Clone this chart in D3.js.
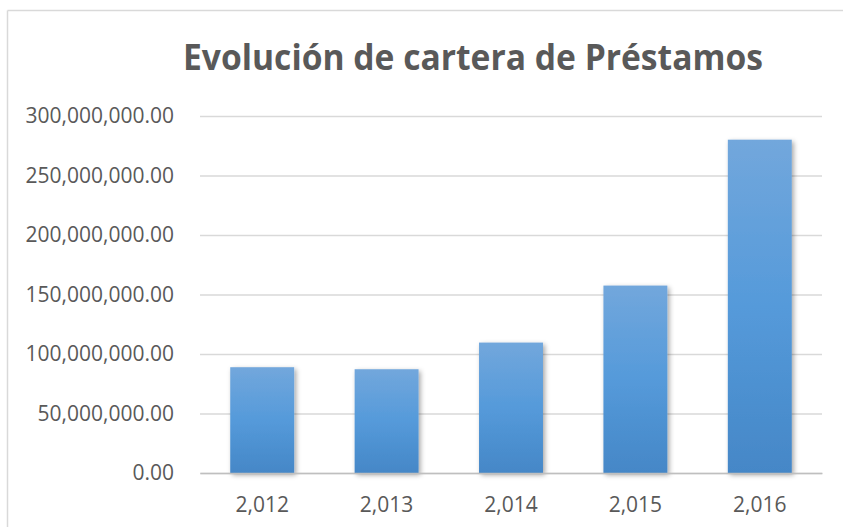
<!DOCTYPE html>
<html>
<head>
<meta charset="utf-8">
<script src="https://cdn.jsdelivr.net/npm/d3@7"></script>
<style>
  html, body { margin: 0; background: #fff; overflow: hidden; }
  svg { display: block; }
  text { font-family: "Open Sans", "Noto Sans", sans-serif; }
</style>
</head>
<body>
<script>
var years = ["2,012", "2,013", "2,014", "2,015", "2,016"];
var cartera = [88900000, 87200000, 109600000, 157500000, 280100000];
var yTicks = [0, 50000000, 100000000, 150000000, 200000000, 250000000, 300000000];
var title = "Evolución de cartera de Préstamos";

var width = 843, height = 527;
var margin = {top: 116, right: 21, bottom: 54, left: 200};

var svg = d3.select("body").append("svg")
    .attr("width", width)
    .attr("height", height);

var defs = svg.append("defs");
var grad = defs.append("linearGradient")
    .attr("id", "barGrad")
    .attr("x1", 0).attr("y1", 0).attr("x2", 0).attr("y2", 1);
grad.append("stop").attr("offset", "0%").attr("stop-color", "#72a7dc");
grad.append("stop").attr("offset", "50%").attr("stop-color", "#559ada");
grad.append("stop").attr("offset", "100%").attr("stop-color", "#4587c7");

var shadow = defs.append("filter")
    .attr("id", "shadow")
    .attr("x", "-20%").attr("y", "-10%").attr("width", "140%").attr("height", "120%");
shadow.append("feDropShadow")
    .attr("dx", 2).attr("dy", 2)
    .attr("stdDeviation", 2.5)
    .attr("flood-color", "#000")
    .attr("flood-opacity", 0.35);

// chart border: only the top and left edges fall inside the window
var border = svg.append("g")
    .attr("stroke", "#d9d9d9")
    .attr("stroke-width", 1.5);
border.append("line")
    .attr("x1", 7.5).attr("y1", 10.5).attr("x2", width).attr("y2", 10.5);
border.append("line")
    .attr("x1", 7.5).attr("y1", 10.5).attr("x2", 7.5).attr("y2", height);

var innerW = width - margin.left - margin.right;

var x = d3.scaleBand()
    .domain(years)
    .range([0, innerW])
    .paddingInner(0.486)
    .paddingOuter(0.243);

var y = d3.scaleLinear()
    .domain([0, 300000000])
    .range([357, 0]);

var g = svg.append("g")
    .attr("transform", "translate(" + margin.left + "," + margin.top + ")");

// gridlines
g.append("g")
    .attr("class", "grid")
    .call(d3.axisLeft(y).tickValues(yTicks).tickSize(-innerW).tickFormat(""))
    .call(function(s) {
      s.select(".domain").remove();
      s.selectAll("line").attr("stroke", "#d9d9d9").attr("stroke-width", 1.3);
    });

// y labels
g.append("g")
    .call(d3.axisLeft(y).tickValues(yTicks).tickSize(0).tickPadding(26)
      .tickFormat(function(d) { return d3.format(",.2f")(d); }))
    .call(function(s) {
      s.select(".domain").remove();
      s.selectAll("text").attr("fill", "#595959").attr("font-size", "21px");
    });

// bars
g.selectAll("rect.bar")
    .data(cartera)
    .enter().append("rect")
    .attr("class", "bar")
    .attr("x", function(d, i) { return x(years[i]); })
    .attr("y", function(d) { return y(d); })
    .attr("width", x.bandwidth())
    .attr("height", function(d) { return y(0) - y(d); })
    .attr("fill", "url(#barGrad)")
    .attr("filter", "url(#shadow)");

// x axis
g.append("g")
    .attr("transform", "translate(0," + y(0) + ")")
    .call(d3.axisBottom(x).tickSize(0).tickPadding(24))
    .call(function(s) {
      s.select(".domain").attr("stroke", "#bfbfbf").attr("stroke-width", 1.3);
      s.selectAll("text").attr("fill", "#595959").attr("font-size", "21px");
    });

// title
svg.append("text")
    .attr("x", 473)
    .attr("y", 70)
    .attr("text-anchor", "middle")
    .attr("font-size", "36px")
    .attr("font-weight", "bold")
    .attr("fill", "#595959")
    .attr("textLength", 580)
    .attr("lengthAdjust", "spacingAndGlyphs")
    .text(title);
</script>
</body>
</html>
